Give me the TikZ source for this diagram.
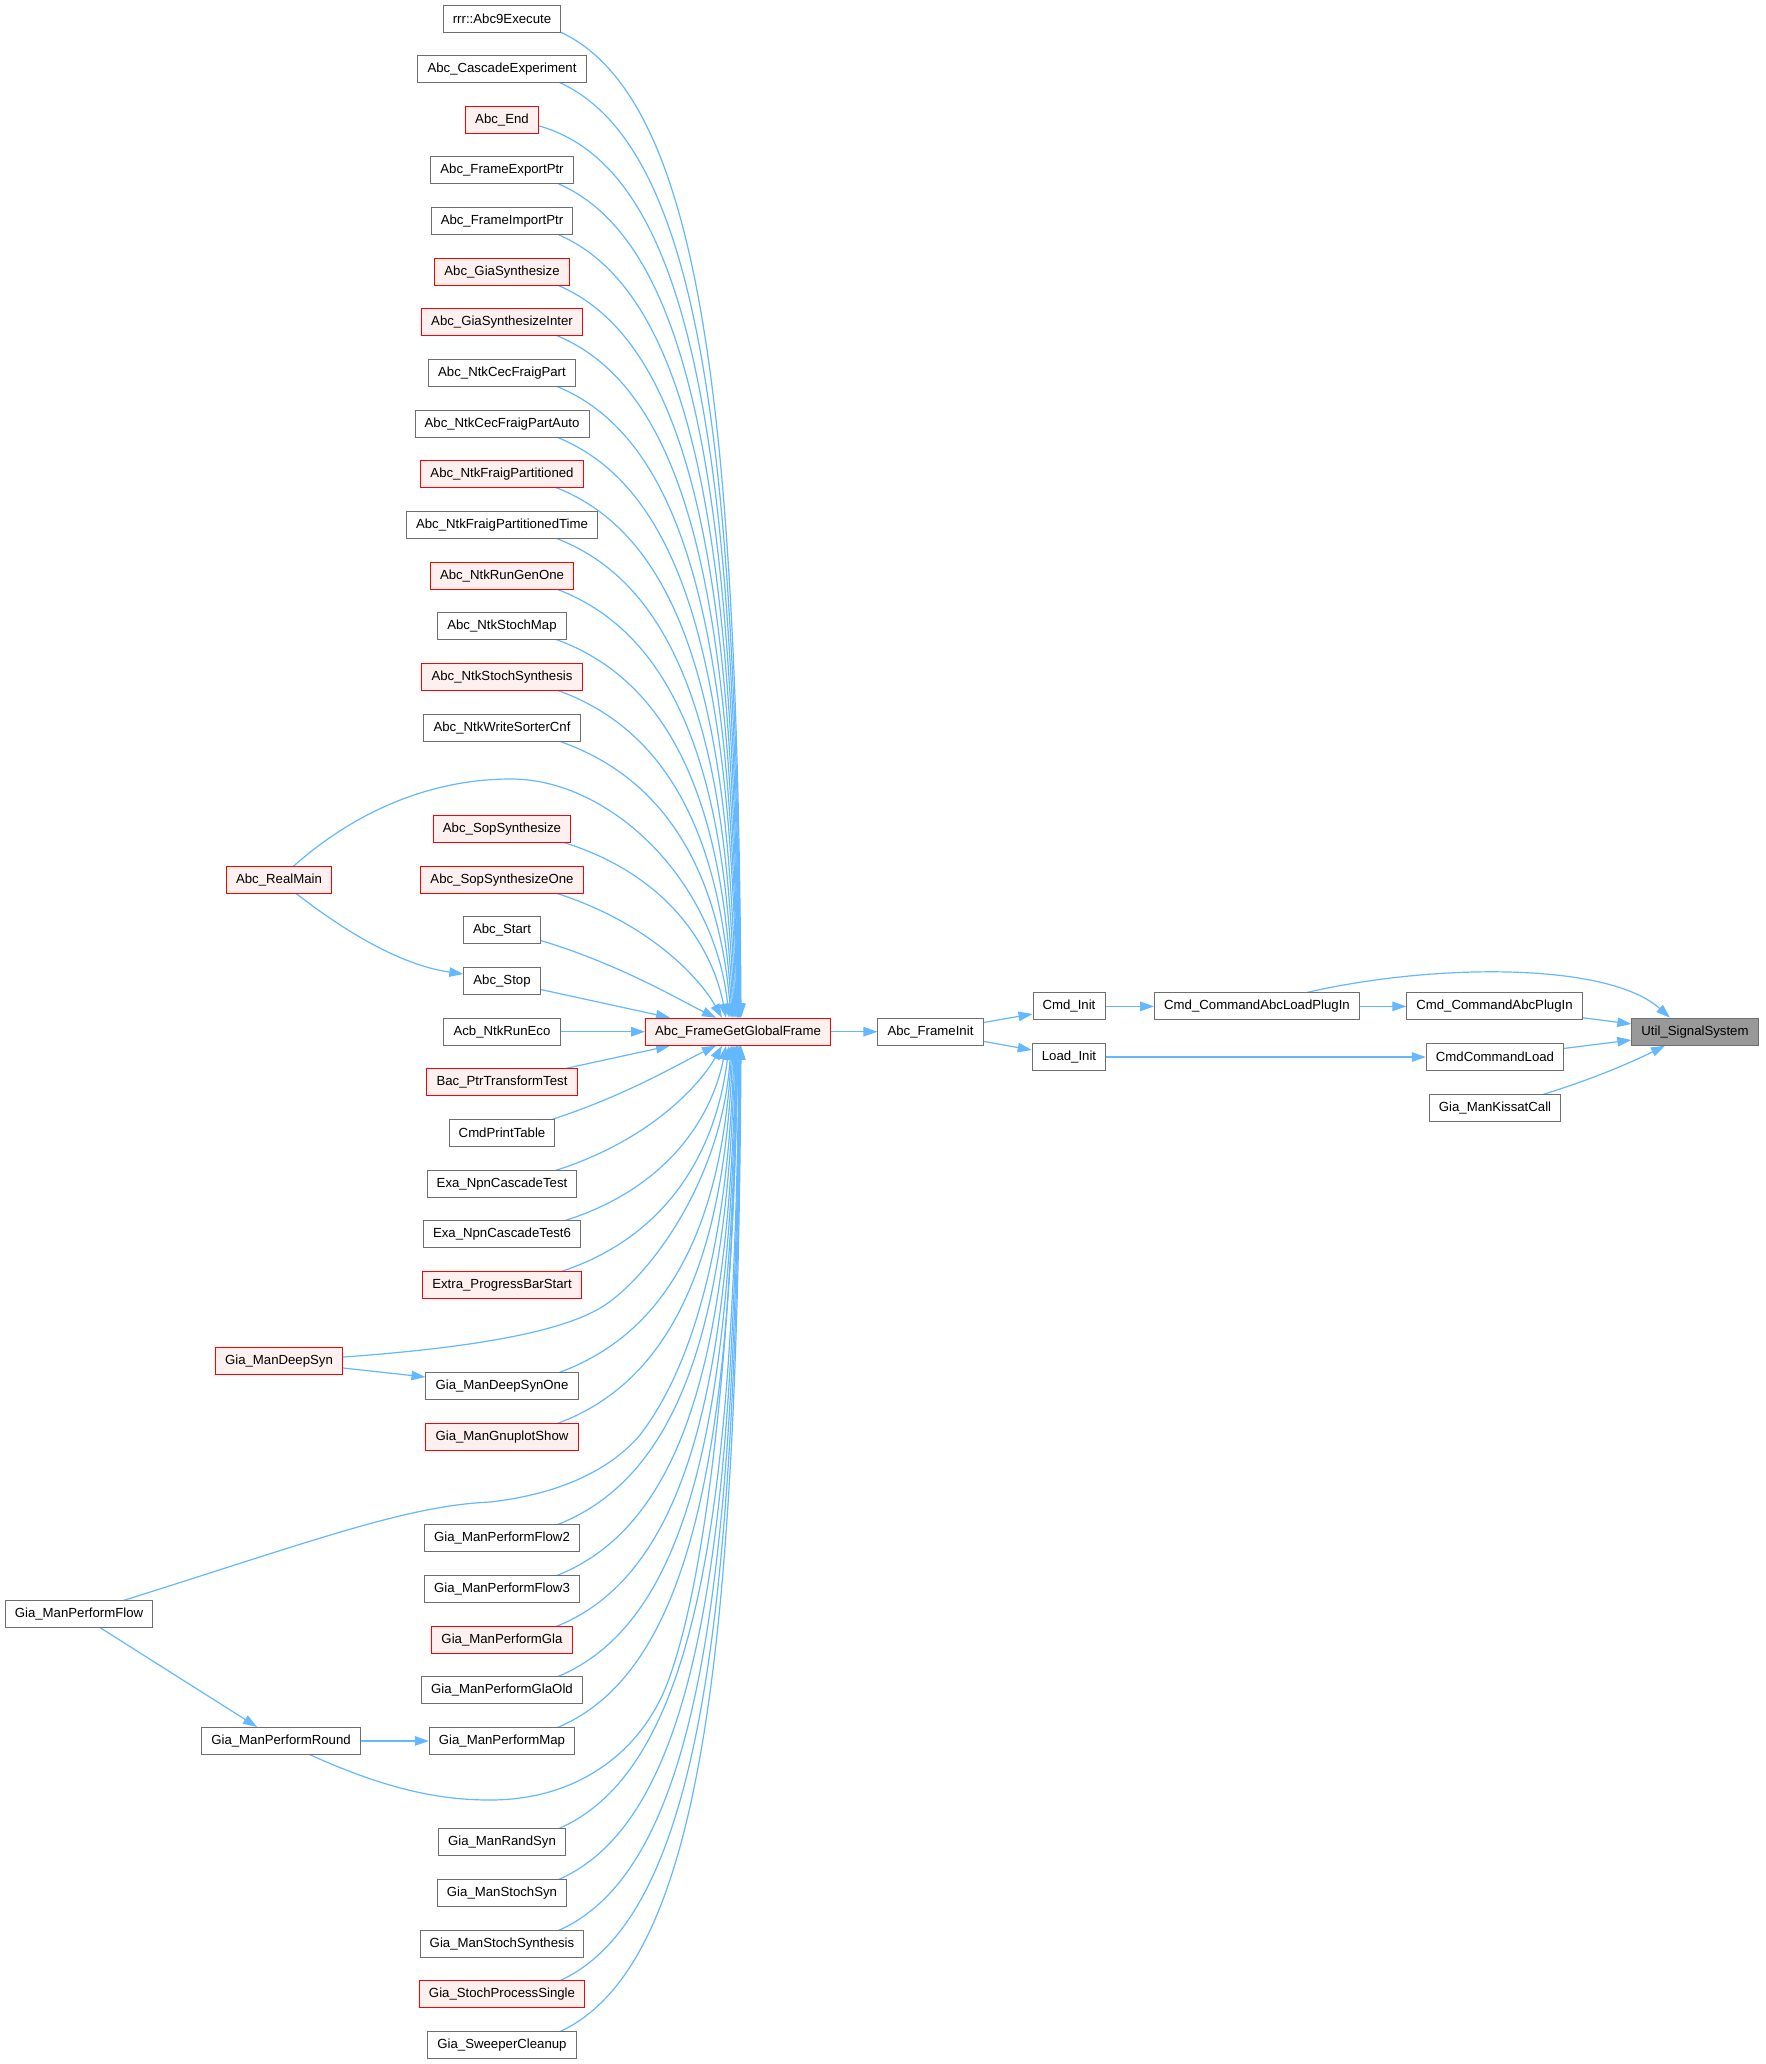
\documentclass[tikz,border=0pt]{standalone}
\usepackage{fontspec}
\setmainfont{Liberation Sans}
\usetikzlibrary{arrows.meta,calc}
\definecolor{edgec}{HTML}{63B8FF}
\definecolor{nodeg}{HTML}{6E6E6E}
\definecolor{redfill}{HTML}{FFF0F0}
\definecolor{rootfill}{HTML}{999999}
\pgfdeclarelayer{bg}
\pgfdeclarelayer{edges}
\pgfsetlayers{bg,edges,main}
\makeatletter
\newdimen\fanxa \newdimen\fanya \newdimen\fanxb \newdimen\fanyb
\newcommand\fan[2]{%
  \pgfpointanchor{#1}{center}\global\fanxa=\pgf@x \global\fanya=\pgf@y
  \pgfpointanchor{#2}{center}\global\fanxb=\pgf@x \global\fanyb=\pgf@y
  \pgfmathsetmacro\fdx{\the\fanxb-\the\fanxa}%
  \pgfmathsetmacro\fdy{\the\fanyb-\the\fanya}%
  \pgfmathsetmacro\fr{abs(\fdy)/(\fdx+abs(\fdy))}%
  \pgfmathsetmacro\fa{ifthenelse(\fr<0.458, 0.46+(\fr-0.29)*1.43, 0.7+(\fr-0.458)*0.258)}%
  \pgfmathsetmacro\fc{ifthenelse(\fr<0.458, 0.25-(\fr-0.29)*0.833, 0.11-(\fr-0.458)*0.297)}%
  \pgfmathsetmacro\fe{ifthenelse(\fr<0.458, 0.17-(\fr-0.29)*0.64, 0.0625-(\fr-0.458)*0.13)}%
  \pgfmathsetmacro\fb{ifthenelse(\fr<0.458, 0.2+(\fr-0.29)*1.13, 0.39+(\fr-0.458)*0.86)}%
  \pgfmathsetmacro\cax{\fa*\fdx}\pgfmathsetmacro\cay{\fc*\fdy}%
  \pgfmathsetmacro\cbx{-\fe*\fdx}\pgfmathsetmacro\cby{-\fb*\fdy}%
  \draw[edge] (#1.center) .. controls ($(#1.center)+(\cax pt,\cay pt)$) and ($(#2)+(\cbx pt,\cby pt)$) .. (#2);%
}
\makeatother
\newcommand\ry[1]{18.5+#1*50.66-50.66}
\begin{document}
\begin{tikzpicture}[x=1pt,y=-1pt,
  fn/.style={draw=nodeg, fill=white, line width=1pt, minimum height=27pt,
    inner xsep=9.6pt, inner ysep=0pt, font=\fontsize{13.2}{16}\selectfont, text=black},
  rn/.style={fn, draw=red, fill=redfill},
  rootn/.style={fn, fill=rootfill},
  edge/.style={draw=edgec, line width=1.2pt, -{Triangle[length=14pt,width=9.5pt]}}]
\useasboundingbox (0,0) rectangle (1766,2064);
\begin{pgfonlayer}{bg}
\fill[white] (0,0) rectangle (1766,2064);
\end{pgfonlayer}

% left column
\node[fn] (n1) at (502,{\ry{1}}) {rrr::Abc9Execute};
\node[fn] (n2) at (502,{\ry{2}}) {Abc\_CascadeExperiment};
\node[rn] (n3) at (502,{\ry{3}}) {Abc\_End};
\node[fn] (n4) at (502,{\ry{4}}) {Abc\_FrameExportPtr};
\node[fn] (n5) at (502,{\ry{5}}) {Abc\_FrameImportPtr};
\node[rn] (n6) at (502,{\ry{6}}) {Abc\_GiaSynthesize};
\node[rn] (n7) at (502,{\ry{7}}) {Abc\_GiaSynthesizeInter};
\node[fn] (n8) at (502,{\ry{8}}) {Abc\_NtkCecFraigPart};
\node[fn] (n9) at (502,{\ry{9}}) {Abc\_NtkCecFraigPartAuto};
\node[rn] (n10) at (502,{\ry{10}}) {Abc\_NtkFraigPartitioned};
\node[fn] (n11) at (502,{\ry{11}}) {Abc\_NtkFraigPartitionedTime};
\node[rn] (n12) at (502,{\ry{12}}) {Abc\_NtkRunGenOne};
\node[fn] (n13) at (502,{\ry{13}}) {Abc\_NtkStochMap};
\node[rn] (n14) at (502,{\ry{14}}) {Abc\_NtkStochSynthesis};
\node[fn] (n15) at (502,{\ry{15}}) {Abc\_NtkWriteSorterCnf};
\node[rn] (n17) at (502,{\ry{17}}) {Abc\_SopSynthesize};
\node[rn] (n18) at (502,{\ry{18}}) {Abc\_SopSynthesizeOne};
\node[fn] (n19) at (502,{\ry{19}}) {Abc\_Start};
\node[fn] (n20) at (502,{\ry{20}}) {Abc\_Stop};
\node[fn] (n21) at (502,{\ry{21}}) {Acb\_NtkRunEco};
\node[rn] (n22) at (502,{\ry{22}}) {Bac\_PtrTransformTest};
\node[fn] (n23) at (502,{\ry{23}}) {CmdPrintTable};
\node[fn] (n24) at (502,{\ry{24}}) {Exa\_NpnCascadeTest};
\node[fn] (n25) at (502,{\ry{25}}) {Exa\_NpnCascadeTest6};
\node[rn] (n26) at (502,{\ry{26}}) {Extra\_ProgressBarStart};
\node[fn] (n28) at (502,{\ry{28}}) {Gia\_ManDeepSynOne};
\node[rn] (n29) at (502,{\ry{29}}) {Gia\_ManGnuplotShow};
\node[fn] (n31) at (502,{\ry{31}}) {Gia\_ManPerformFlow2};
\node[fn] (n32) at (502,{\ry{32}}) {Gia\_ManPerformFlow3};
\node[rn] (n33) at (502,{\ry{33}}) {Gia\_ManPerformGla};
\node[fn] (n34) at (502,{\ry{34}}) {Gia\_ManPerformGlaOld};
\node[fn] (n35) at (502,{\ry{35}}) {Gia\_ManPerformMap};
\node[fn] (n37) at (502,{\ry{37}}) {Gia\_ManRandSyn};
\node[fn] (n38) at (502,{\ry{38}}) {Gia\_ManStochSyn};
\node[fn] (n39) at (502,{\ry{39}}) {Gia\_ManStochSynthesis};
\node[rn] (n40) at (502,{\ry{40}}) {Gia\_StochProcessSingle};
\node[fn] (n41) at (502,{\ry{41}}) {Gia\_SweeperCleanup};

% further left
\node[rn] (realmain) at (279,{\ry{18}}) {Abc\_RealMain};
\node[rn] (deepsyn) at (279,{\ry{27.5}}) {Gia\_ManDeepSyn};
\node[fn] (flow) at (79,{\ry{32.5}}) {Gia\_ManPerformFlow};
\node[fn] (round) at (281,{\ry{35}}) {Gia\_ManPerformRound};

% right part
\node[rn] (hub) at (738,{\ry{21}}) {Abc\_FrameGetGlobalFrame};
\node[fn] (frameinit) at (930.5,{\ry{21}}) {Abc\_FrameInit};
\node[fn] (cmdinit) at (1069,{\ry{20.5}}) {Cmd\_Init};
\node[fn] (loadinit) at (1069,{\ry{21.5}}) {Load\_Init};
\node[fn] (loadplugin) at (1257,{\ry{20.5}}) {Cmd\_CommandAbcLoadPlugIn};
\node[fn] (abcplugin) at (1494.5,{\ry{20.5}}) {Cmd\_CommandAbcPlugIn};
\node[fn] (cmdload) at (1495,{\ry{21.5}}) {CmdCommandLoad};
\node[fn] (kissat) at (1495,{\ry{22.5}}) {Gia\_ManKissatCall};
\node[rootn] (util) at (1695,{\ry{21}}) {Util\_SignalSystem};

\begin{pgfonlayer}{edges}
\foreach \k/\o in {1/3,2/2.5,3/2,4/1.5,5/1,6/0.5,7/0,8/-0.5,9/-1,10/-2,11/-3,12/-4,13/-5,14/-6,15/-7,17/-12,18/-16,19/-22}{
  \coordinate (T\k) at ([xshift=\o pt]hub.north);
  \fan{n\k}{T\k}
}
\foreach \k/\o in {23/-22,24/-16,25/-12,26/-9,28/-6,29/-5,31/-3,32/-2,33/-1.5,34/-1,35/-0.5,37/1,38/1.5,39/2,40/2.5,41/3}{
  \coordinate (B\k) at ([xshift=\o pt]hub.south);
  \fan{n\k}{B\k}
}
\coordinate (Tstop) at ([xshift=-68pt]hub.north);
\draw[edge] (n20.center) -- (Tstop);
\coordinate (Bbac) at ([xshift=-68pt]hub.south);
\draw[edge] (n22.center) -- (Bbac);
\draw[edge] (n21) -- (hub);

% Abc_RealMain
\coordinate (Trm) at ([xshift=-9pt]hub.north);
\draw[edge] (realmain.center) .. controls (340,820) and (420,779) .. (511,779)
  .. controls (610,779) and (715,880) .. (Trm);
\coordinate (Lstop) at ([yshift=7pt]n20.west);
\draw[edge] (realmain.center) .. controls (340,930) and (400,965) .. (Lstop);

% Gia_ManDeepSyn
\coordinate (Bds) at ([xshift=-7pt]hub.south);
\draw[edge] (deepsyn.center) .. controls (450,1352) and (560,1335) .. (605,1305)
  .. controls (650,1275) and (722,1180) .. (Bds);
\coordinate (Lds) at ([yshift=9.3pt]n28.west);
\draw[edge] (deepsyn.center) -- (Lds);

% Gia_ManPerformFlow
\coordinate (Bfl) at ([xshift=-4pt]hub.south);
\draw[edge] (flow.center) .. controls (300,1546) and (400,1506) .. (490,1502)
  .. controls (560,1494) and (610,1470) .. (640,1435)
  .. controls (690,1370) and (728,1250) .. (Bfl);
\coordinate (Trd) at ([xshift=-24pt]round.north);
\draw[edge] (flow.center) -- (Trd);

% Gia_ManPerformRound
\draw[edge] (round) -- (n35);
\coordinate (Brd) at (hub.south);
\draw[edge] (round.center) .. controls (380,1790) and (440,1800) .. (490,1800)
  .. controls (570,1800) and (630,1760) .. (660,1700)
  .. controls (690,1640) and (730,1450) .. (Brd);

% right part
\draw[edge] (hub) -- (frameinit);
\coordinate (Lci) at ([yshift=-7.6pt]cmdinit.west);
\draw[edge] (frameinit.center) -- (Lci);
\coordinate (Lli) at ([yshift=7pt]loadinit.west);
\draw[edge] (frameinit.center) -- (Lli);
\draw[edge] (cmdinit) -- (loadplugin);
\draw[edge] (loadplugin) -- (abcplugin);
\draw[edge] (loadinit) -- (cmdload);
\coordinate (Tu) at ([xshift=-25pt]util.north);
\draw[edge] (loadplugin.center) .. controls (1380,965) and (1600,955) .. (Tu);
\coordinate (Lu1) at ([yshift=7.7pt]util.west);
\draw[edge] (abcplugin.center) -- (Lu1);
\coordinate (Lu2) at ([yshift=-8.3pt]util.west);
\draw[edge] (cmdload.center) -- (Lu2);
\coordinate (Bu) at ([xshift=-30pt]util.south);
\draw[edge] (kissat.center) .. controls (1560,1092) and (1620,1068) .. (Bu);
\end{pgfonlayer}
\end{tikzpicture}
\end{document}
